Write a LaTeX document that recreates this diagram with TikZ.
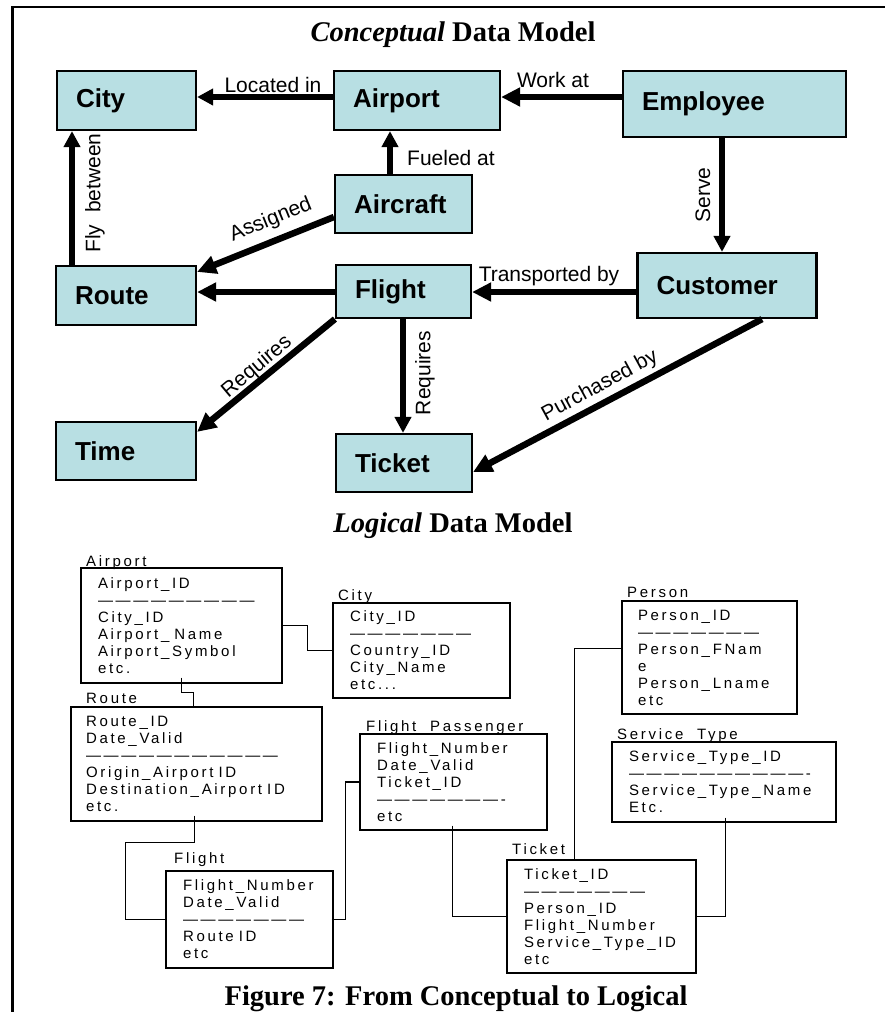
\documentclass[tikz,border=0pt]{standalone}
\usepackage{fontspec}
\setmainfont{Liberation Serif}
\newfontfamily\arial{Liberation Sans}
\newfontfamily\arialsp[LetterSpace=18]{Liberation Sans}
\usetikzlibrary{arrows.meta,calc}
\definecolor{entfill}{RGB}{184,223,227}

\tikzset{
  ent/.style={draw=black, line width=2.2pt, fill=entfill, inner xsep=19pt, inner ysep=0pt,
    align=left, font=\arial\bfseries\fontsize{26}{30}\selectfont},
  rel/.style={line width=5.5pt, -{Triangle[length=16pt,width=16pt]}},
  relb/.style={line width=6.5pt, -{Triangle[length=19pt,width=18pt]}},
  rlab/.style={inner sep=0pt, font=\arial\fontsize{21}{24}\selectfont},
  tbl/.style={draw=black, line width=1.1pt, inner xsep=17pt, inner ysep=0pt,
    align=left, font=\arialsp\fontsize{15}{17}\selectfont},
  tname/.style={anchor=base west, inner sep=0pt, font=\arialsp\fontsize{15}{17}\selectfont},
  link/.style={line width=1.1pt},
  heading/.style={anchor=base, inner sep=0pt, font=\bfseries\fontsize{28.5}{32}\selectfont},
}

\begin{document}
\begin{tikzpicture}[x=1pt, y=-1pt]
\useasboundingbox (0,0) rectangle (885,1012);

% outer frame (top and left rules)
\draw[line width=2.5pt] (12.5,1012) -- (12.5,7) -- (885,7);

% ---------- conceptual model ----------
\node[heading] (hconc) at (453,41) {\textit{Conceptual} Data Model};

\node[ent, text width=101pt, minimum height=59pt] (ccity)     at (126.5,100.5) {City};
\node[ent, text width=128pt, minimum height=59pt] (cairport)  at (417,100.5)   {Airport};
\node[ent, text width=185pt, minimum height=66pt] (cemployee) at (734.5,104)   {Employee};
\node[ent, text width=99pt,  minimum height=58pt] (caircraft) at (403.5,204)   {Aircraft};
\node[ent, text width=102pt, minimum height=59pt] (croute)    at (126,295.5)   {Route};
\node[ent, text width=97pt,  minimum height=53pt] (cflight)   at (403.5,291.5) {Flight};
\node[ent, text width=141pt, minimum height=65pt] (ccustomer) at (727,285.5)   {Customer};
\node[ent, text width=102pt, minimum height=58pt] (ctime)     at (126,451)     {Time};
\node[ent, text width=98pt,  minimum height=58pt] (cticket)   at (404,463)     {Ticket};

% relationships
\draw[rel]  (cairport.west |- 0,97) -- (ccity.east |- 0,97);
\draw[relb] (cemployee.west |- 0,97) -- (cairport.east |- 0,97);
\draw[rel]  (caircraft.north -| 390,0) -- (cairport.south -| 390,0);
\draw[rel]  (cemployee.south -| 722,0) -- (ccustomer.north -| 722,0);
\draw[relb] (caircraft.west |- 0,217) -- ($(croute.north east)+(0,7)$);
\draw[rel]  (croute.north -| 72,0) -- (ccity.south -| 72,0);
\draw[relb] (cflight.west |- 0,292) -- (croute.east |- 0,292);
\draw[relb] (ccustomer.west |- 0,292) -- (cflight.east |- 0,292);
\draw[relb] (cflight.south west) -- ($(ctime.north east)+(0,11)$);
\draw[rel]  (cflight.south -| 403,0) -- (cticket.north -| 403,0);
\draw[relb] (ccustomer.south -| 762,0) -- ($(cticket.east)+(0,9)$);

% relationship names
\node[rlab] (tlocated) at (273,85) {Located in};
\node[rlab] (tworkat) at (553,80) {Work at};
\node[rlab] (tfueled) at (451,158) {Fueled at};
\node[rlab] (ttransp) at (549,276) {Transported by};
\node[rlab, rotate=22] (tassigned) at (271,220) {Assigned};
\node[rlab, rotate=90] (tfly) at (95,193) {Fly~~between};
\node[rlab, rotate=90] (tserve) at (703,195) {Serve};
\node[rlab, rotate=40] (treqtime) at (257,367) {Requires};
\node[rlab, rotate=90] (treqticket) at (425,373) {Requires};
\node[rlab, rotate=28.5] (tpurch) at (600,386) {Purchased by};

% ---------- logical model ----------
\node[heading] (hlog) at (453,532) {\textit{Logical} Data Model};

\node[tbl, text width=167pt, minimum height=115pt] (lairport) at (181.5,625.5)
  {Airport\_ID\\—————————\\City\_ID\\Airport\_ Name\\Airport\_Symbol\\etc.};
\node[tbl, text width=143pt, minimum height=95pt] (lcity) at (421.5,650.5)
  {City\_ID\\———————\\Country\_ID\\City\_Name\\etc...};
\node[tbl, inner xsep=15pt, text width=221pt, minimum height=114pt] (lroute) at (196.5,764)
  {Route\_ID\\Date\_Valid\\———————————\\Origin\_Airport ID\\Destination\_Airport ID\\etc.};
\node[tbl, text width=153pt, minimum height=96pt] (lfp) at (453.5,782)
  {Flight\_Number\\Date\_Valid\\Ticket\_ID\\———————-\\etc};
\node[tbl, text width=133pt, minimum height=97pt] (lflight) at (249.5,919.5)
  {Flight\_Number\\Date\_Valid\\———————\\Route ID\\etc};
\node[tbl, text width=155pt, minimum height=113pt] (lticket) at (601.5,916.5)
  {Ticket\_ID\\———————\\Person\_ID\\Flight\_Number\\Service\_Type\_ID\\etc};
\node[tbl, inner xsep=16pt, text width=143pt, minimum height=113pt] (lperson) at (709.5,657.5)
  {Person\_ID\\———————\\Person\_FNam\\e\\Person\_Lname\\etc};
\node[tbl, text width=190pt, minimum height=80pt] (lst) at (724,782)
  {Service\_Type\_ID\\——————————-\\Service\_Type\_Name\\Etc.};

% table names
\node[tname] (nairport) at (86,566) {Airport};
\node[tname] (ncity) at (338,600) {City};
\node[tname] (nroute) at (86,703) {Route};
\node[tname] (nfp) at (366,731) {Flight\_Passenger};
\node[tname] (nflight) at (174,863) {Flight};
\node[tname] (nticket) at (512,854) {Ticket};
\node[tname] (nperson) at (627,597) {Person};
\node[tname] (nst) at (617,739) {Service\_Type};

% links between tables
\draw[link] (lairport.east) -- ++(25,0) |- (lcity.west);
\draw[link] ($(lairport.south west)+(101,-6)$) -- ++(0,15) -| ($(lroute.north west)+(123,0)$);
\draw[link] ($(lroute.south west)+(124,-6)$) -- ++(0,27) -- ++(-69,0) |- (lflight.west);
\draw[link] ($(lflight.east)+(-2,0)$) -- ++(14,0) |- (lfp.west);
\draw[link] ($(lfp.south west)+(93,-5)$) |- (lticket.west);
\draw[link] ($(lticket.north west)+(68,0)$) |- ($(lperson.west)+(0,-9)$);
\draw[link] ($(lst.south west)+(114,-5)$) |- (lticket.east);

% caption
\node[heading] (hcap) at (456,1005) {Figure 7: From Conceptual to Logical};
\end{tikzpicture}
\end{document}
